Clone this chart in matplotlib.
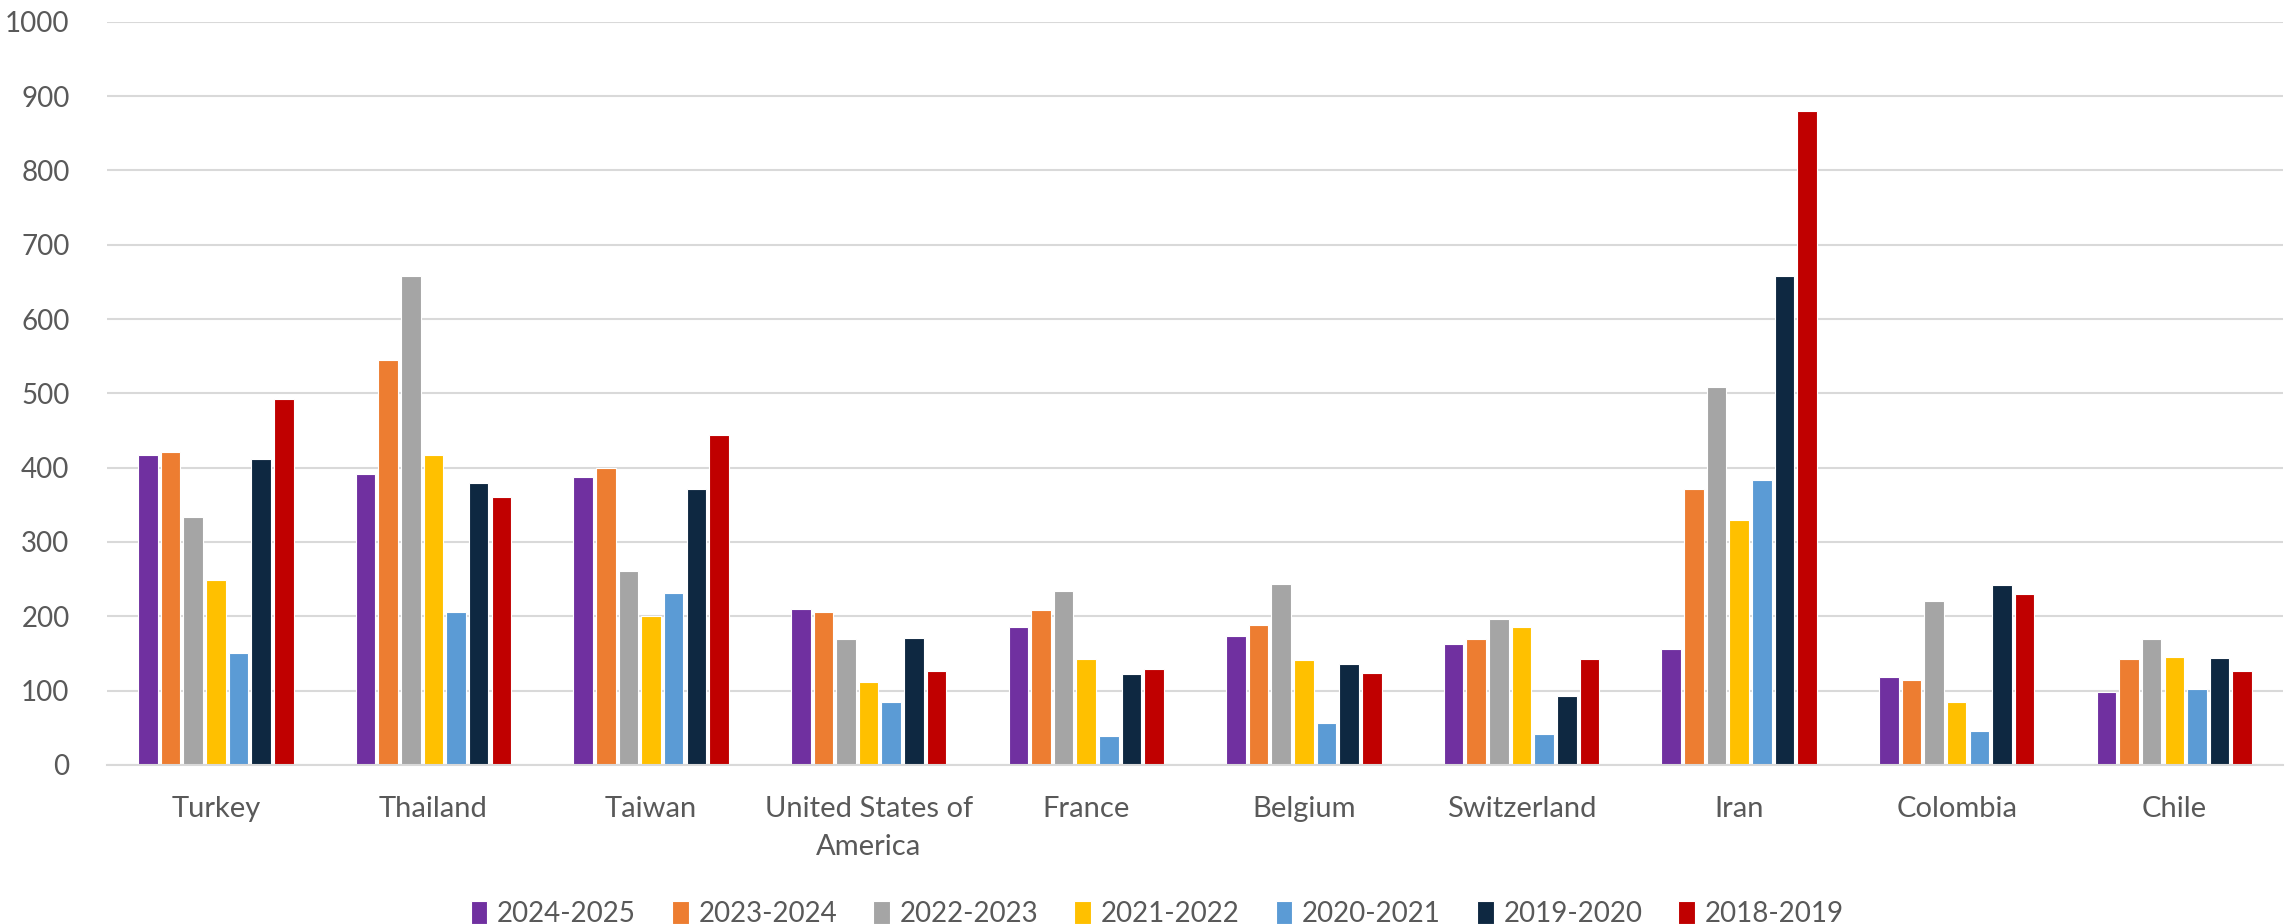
import numpy as np
import matplotlib
matplotlib.use("Agg")
import matplotlib.pyplot as plt

countries = ["Turkey", "Thailand", "Taiwan", "United States of\nAmerica", "France",
             "Belgium", "Switzerland", "Iran", "Colombia", "Chile"]
seasons = ["2024-2025", "2023-2024", "2022-2023", "2021-2022",
           "2020-2021", "2019-2020", "2018-2019"]

v_2024_2025 = [417, 391, 388, 210, 186, 174, 163, 156, 118, 98]
v_2023_2024 = [421, 545, 400, 206, 208, 188, 170, 371, 114, 142]
v_2022_2023 = [334, 658, 261, 170, 234, 244, 197, 509, 221, 169]
v_2021_2022 = [249, 417, 200, 112, 143, 141, 185, 330, 85, 145]
v_2020_2021 = [150, 206, 232, 85, 39, 56, 42, 383, 46, 102]
v_2019_2020 = [411, 380, 371, 171, 123, 136, 93, 658, 242, 144]
v_2018_2019 = [493, 361, 444, 127, 129, 124, 142, 880, 230, 127]

series = [v_2024_2025, v_2023_2024, v_2022_2023, v_2021_2022,
          v_2020_2021, v_2019_2020, v_2018_2019]
colors = ["#7030A0", "#ED7D31", "#A5A5A5", "#FFC000", "#5B9BD5", "#0E2841", "#C00000"]

plt.rcParams["font.family"] = ["Lato", "DejaVu Sans"]
text_color = "#595959"
grid_color = "#D9D9D9"

fig = plt.figure(figsize=(22.87, 9.24), dpi=100)
ax = fig.add_axes([0.0468, 0.1721, 0.9515, 0.8044])

x = np.arange(len(countries))
step = 0.104
width = 0.09
offsets = (np.arange(len(series)) - (len(series) - 1) / 2) * step
for vals, off, col, name in zip(series, offsets, colors, seasons):
    ax.bar(x + off, vals, width=width, color=col, edgecolor="white",
           linewidth=0.8, label=name, zorder=3)

ax.set_xlim(-0.5, len(countries) - 0.5)
ax.set_ylim(0, 1000)
ax.set_yticks(np.arange(0, 1001, 100))
ax.set_xticks(x)
ax.set_xticklabels(countries, fontsize=21, color=text_color, linespacing=1.6)
ax.tick_params(axis="y", labelsize=20, labelcolor=text_color, length=0, pad=27)
ax.tick_params(axis="x", length=0, pad=22)
ax.grid(axis="y", color=grid_color, linewidth=1.5, zorder=0)
for side in ["top", "right", "left"]:
    ax.spines[side].set_visible(False)
ax.spines["bottom"].set_color(grid_color)
ax.spines["bottom"].set_linewidth(1.5)
ax.spines["bottom"].set_zorder(4)

fig.legend(loc="lower center", bbox_to_anchor=(0.506, -0.03), ncol=7, frameon=False,
           fontsize=20, labelcolor=text_color, handlelength=0.6, handleheight=0.9,
           handletextpad=0.35, columnspacing=1.3)

fig.savefig("out.png", dpi=100)
plt.close(fig)
